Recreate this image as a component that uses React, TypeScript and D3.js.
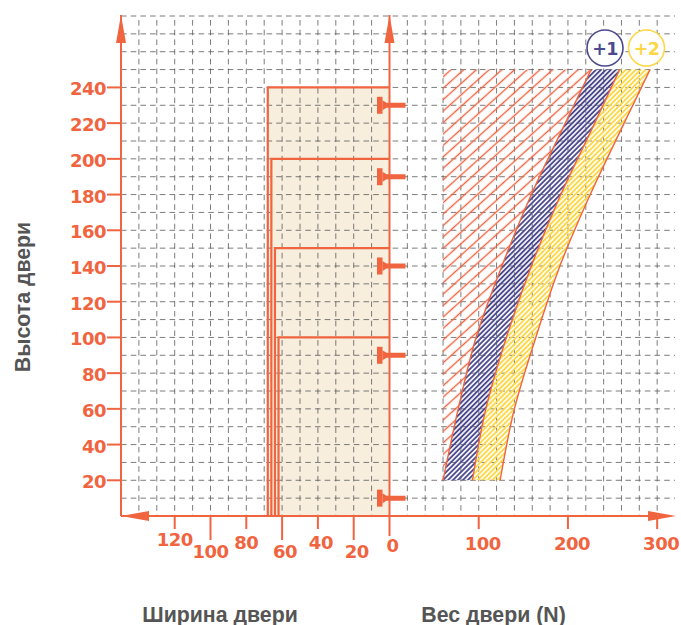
import { useEffect, useRef } from 'react';
import * as d3 from 'd3';

const heightTicks = [20, 40, 60, 80, 100, 120, 140, 160, 180, 200, 220, 240];
const widthTicks = [120, 100, 80, 60, 40, 20, 0];
const weightTicks = [100, 200, 300];

// door outlines (width, height)
const doorWidths = [68, 66, 64, 62];
const doorHeights = [240, 200, 150, 100];
const hingeHeights = [230, 190, 140, 90, 10];

const bandHeights = [20, 60, 100, 140, 180, 220, 250];
const edgeOne = [60, 77, 97, 126, 159, 197, 226];
const edgeTwo = [93, 108, 131, 159, 192, 230, 258];
const edgeThree = [124, 140, 164, 191, 225, 263, 292];

const ORANGE = '#f0643f';
const BLUE = '#4c4a8e';
const YELLOW = '#fdd746';
const GREY = '#5a5a5a';
const FONT = '"DejaVu Sans", sans-serif';
const TITLE_FONT = '"Liberation Sans", Arial, sans-serif';

export default function App() {
  const svgRef = useRef<SVGSVGElement>(null);

  useEffect(() => {
    if (!svgRef.current) return;
    const svg = d3.select(svgRef.current);
    svg.selectAll('*').remove();

    const y = d3.scaleLinear().domain([0, 280]).range([516, 16]);
    const xWeight = d3.scaleLinear().domain([0, 320]).range([389.5, 675]);
    const xWidth = d3.scaleLinear().domain([0, 150]).range([389.5, 121]);

    const defs = svg.append('defs');
    const hatch = (id: string, color: string, gap: number, sw: number, angle: number, dx = 0) => {
      const p = defs.append('pattern')
        .attr('id', id)
        .attr('patternUnits', 'userSpaceOnUse')
        .attr('width', gap)
        .attr('height', gap)
        .attr('patternTransform', `translate(${dx},0) rotate(${angle})`);
      p.append('line')
        .attr('x1', gap / 2).attr('x2', gap / 2)
        .attr('y1', 0).attr('y2', gap)
        .attr('stroke', color)
        .attr('stroke-width', sw);
    };
    hatch('hatch-red', ORANGE, 8.5, 1.4, 48, 1.25);
    hatch('hatch-blue', BLUE, 3.5, 1.9, 45);
    hatch('hatch-yellow', YELLOW, 3.5, 1.9, 45);

    // Door area
    svg.append('rect')
      .attr('x', xWidth(d3.max(doorWidths)!))
      .attr('y', y(d3.max(doorHeights)!))
      .attr('width', xWidth(0) - xWidth(d3.max(doorWidths)!))
      .attr('height', y(0) - y(d3.max(doorHeights)!))
      .attr('fill', '#f7eedd');

    // Grid
    const grid = svg.append('g')
      .attr('stroke', GREY)
      .attr('stroke-width', 0.8)
      .attr('stroke-dasharray', '5.6 4.1');
    grid.selectAll('line.h')
      .data(d3.range(10, 290, 10))
      .enter()
      .append('line')
      .attr('x1', 121).attr('x2', 675)
      .attr('y1', d => y(d)).attr('y2', d => y(d));
    grid.selectAll('line.v1')
      .data(d3.range(10, 160, 10))
      .enter()
      .append('line')
      .attr('x1', d => xWidth(d)).attr('x2', d => xWidth(d))
      .attr('y1', y(280) + 4).attr('y2', 516);
    grid.selectAll('line.v2')
      .data(d3.range(20, 320, 20))
      .enter()
      .append('line')
      .attr('x1', d => xWeight(d)).attr('x2', d => xWeight(d))
      .attr('y1', y(280) + 4).attr('y2', 516);

    // Bands
    const band = (left: number[] | null, right: number[], fill: string) => {
      const area = d3.area<number>()
        .curve(d3.curveMonotoneY)
        .y(d => y(d))
        .x0((_, i) => xWeight(left ? left[i] : 60))
        .x1((_, i) => xWeight(right[i]));
      svg.append('path').attr('d', area(bandHeights)).attr('fill', fill);
    };
    band(null, edgeOne, 'url(#hatch-red)');
    band(edgeOne, edgeTwo, 'url(#hatch-blue)');
    band(edgeTwo, edgeThree, 'url(#hatch-yellow)');

    [edgeOne, edgeTwo, edgeThree].forEach(edge => {
      const line = d3.line<number>()
        .curve(d3.curveMonotoneY)
        .y(d => y(d))
        .x((_, i) => xWeight(edge[i]));
      svg.append('path')
        .attr('d', line(bandHeights))
        .attr('fill', 'none')
        .attr('stroke', ORANGE)
        .attr('stroke-width', 1.4);
    });

    // Door outlines
    doorWidths.forEach((w, i) => {
      const line = d3.line();
      svg.append('path')
        .attr('d', line([
          [xWidth(0), y(doorHeights[i])],
          [xWidth(w), y(doorHeights[i])],
          [xWidth(w), y(0)],
        ]))
        .attr('fill', 'none')
        .attr('stroke', ORANGE)
        .attr('stroke-width', 2.2);
    });

    // Hinges
    hingeHeights.forEach(h => {
      const g = svg.append('g')
        .attr('transform', `translate(${xWidth(0)},${y(h)})`)
        .attr('fill', ORANGE);
      g.append('rect').attr('x', -12.5).attr('y', -8.5).attr('width', 5.5).attr('height', 17);
      g.append('path').attr('d', 'M-7,-5 L-3,-2.5 L16,-2.5 L16,2.5 L-3,2.5 L-7,5 Z');
    });

    // Axes
    const axes = svg.append('g').attr('stroke', ORANGE).attr('stroke-width', 2).attr('fill', 'none');
    axes.append('line').attr('x1', 121).attr('x2', 121).attr('y1', 15).attr('y2', 516);
    axes.append('line').attr('x1', xWidth(0)).attr('x2', xWidth(0)).attr('y1', 15).attr('y2', 536);
    axes.append('line').attr('x1', 121).attr('x2', 660).attr('y1', 516).attr('y2', 516);

    const arrows = [
      'M121,15 L126,43 L116,43 Z',
      'M389.5,15 L394.5,43 L384.5,43 Z',
      'M121,516 L149,511 L149,521 Z',
      'M676,516 L648,511 L648,521 Z',
    ];
    svg.append('g').selectAll('path').data(arrows).enter().append('path')
      .attr('d', d => d)
      .attr('fill', ORANGE);

    const label = (x: number, yy: number, text: string, anchor = 'middle') =>
      svg.append('text')
        .attr('x', x).attr('y', yy)
        .attr('text-anchor', anchor)
        .attr('font-family', FONT)
        .attr('font-weight', 700)
        .attr('font-size', 18)
        .attr('letter-spacing', -0.5)
        .attr('fill', ORANGE)
        .text(text);

    // Height ticks
    heightTicks.forEach(h => {
      axes.append('line').attr('x1', 107).attr('x2', 121).attr('y1', y(h)).attr('y2', y(h));
      label(106, y(h) + 8, String(h), 'end');
    });

    // Width ticks, staggered
    widthTicks.forEach(w => {
      const long = w === 100 || w === 60 || w === 20;
      if (w !== 0) {
        axes.append('line')
          .attr('x1', xWidth(w)).attr('x2', xWidth(w))
          .attr('y1', 516).attr('y2', long ? 540 : 529);
      }
      const base = w === 0 ? 552 : w === 120 ? 546 : long ? 558 : 549;
      label(xWidth(w) + (w === 120 || w === 100 ? 0 : w === 80 ? 0 : 3), base, String(w));
    });

    // Weight ticks
    weightTicks.forEach(w => {
      axes.append('line')
        .attr('x1', xWeight(w)).attr('x2', xWeight(w))
        .attr('y1', 516).attr('y2', 529);
      label(xWeight(w) + 4, 550, String(w));
    });

    // Badges
    const badge = (cx: number, color: string, text: string) => {
      svg.append('circle')
        .attr('cx', cx).attr('cy', 48).attr('r', 18)
        .attr('fill', '#ffffff')
        .attr('stroke', color)
        .attr('stroke-width', 1.6);
      svg.append('text')
        .attr('x', cx).attr('y', 54.5)
        .attr('text-anchor', 'middle')
        .attr('font-family', FONT)
        .attr('font-weight', 700)
        .attr('font-size', 17.5)
        .attr('letter-spacing', -0.6)
        .attr('fill', color)
        .text(text);
    };
    badge(605, BLUE, '+1');
    badge(646.5, YELLOW, '+2');

    // Titles
    const title = (text: string, x: number, yy: number, rotate = 0) =>
      svg.append('text')
        .attr('transform', `translate(${x},${yy}) rotate(${rotate})`)
        .attr('text-anchor', 'middle')
        .attr('font-family', TITLE_FONT)
        .attr('font-weight', 700)
        .attr('font-size', 21.3)
        .attr('fill', '#555555')
        .text(text);
    title('Ширина двери', 220, 621.5);
    title('Вес двери (N)', 493.5, 621.5);
    title('Высота двери', 30, 297, -90);
  }, []);

  return (
    <svg
      ref={svgRef}
      width={681}
      height={625}
      style={{ position: 'absolute', left: 0, top: 0, background: '#fff' }}
    />
  );
}
